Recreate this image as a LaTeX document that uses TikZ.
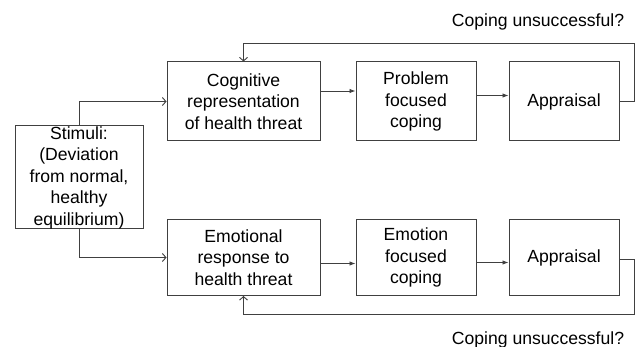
\documentclass[tikz,border=0pt]{standalone}
\usepackage{fontspec}
\setmainfont{Liberation Sans}
\usepackage{tikz}
\usetikzlibrary{shapes,arrows,arrows.meta,positioning,calc}
\definecolor{linegray}{HTML}{404040}

\begin{document}
\begin{tikzpicture}[
        x=1pt, y=-1pt,
        font=\fontsize{17.6}{21.5}\selectfont,
        box/.style={rectangle, draw=linegray, fill=white, align=center, inner sep=0pt, line width=1pt},
        toprow/.style={box, minimum height=79pt},
        botrow/.style={box, minimum height=76pt},
        line/.style={draw=linegray, -{Latex[length=6pt,width=4.5pt]}, line width=0.9pt},
        feed/.style={draw=linegray, -{Straight Barb[length=3.5pt,width=8pt]}, line width=0.9pt},
        note/.style={inner sep=0pt}
    ]
    \useasboundingbox (0,0) rectangle (639,347);

    % Stimuli
    \node [box, minimum width=128pt, minimum height=103pt] (stim) at (79,177.5) {Stimuli:\\(Deviation\\from normal,\\healthy\\equilibrium)};

    % Cognitive route
    \node [toprow, minimum width=153pt] (cog) at (243.5,101.5) {Cognitive\\representation\\of health threat};
    \node [toprow, minimum width=120pt, right=35pt of cog] (prob) {Problem\\focused\\coping};
    \node [toprow, minimum width=110pt, right=32pt of prob] (appc) {Appraisal};

    % Emotional route
    \node [botrow, minimum width=153pt] (emo) at (243.5,257.5) {Emotional\\response to\\health threat};
    \node [botrow, minimum width=120pt, right=35pt of emo] (emof) {Emotion\\focused\\coping};
    \node [botrow, minimum width=110pt, right=32pt of emof] (appe) {Appraisal};

    % Feedback labels
    \node [note] (q1) at (538,22) {Coping unsuccessful?};
    \node [note] (q2) at (538,340) {Coping unsuccessful?};

    % Stimuli to both routes
    \path [feed] (stim.north) |- (cog.west);
    \path [feed] (stim.south) |- (emo.west);

    % Forward connections
    \path [line] ([yshift=10.5pt]cog.east) -- ([yshift=10.5pt]prob.west);
    \path [line] ([yshift=6pt]prob.east) -- ([yshift=6pt]appc.west);
    \path [line] ([yshift=-6pt]emo.east) -- ([yshift=-6pt]emof.west);
    \path [line] ([yshift=-5pt]emof.east) -- ([yshift=-5pt]appe.west);

    % Feedback loops
    \coordinate (cogloop) at (634,43);
    \coordinate (emoloop) at (634,314);
    \path [feed] (appc.east) -| (cogloop) -| (cog.north);
    \path [feed] ([yshift=-1.5pt]appe.east) -| (emoloop) -| (emo.south);

\end{tikzpicture}
\end{document}
